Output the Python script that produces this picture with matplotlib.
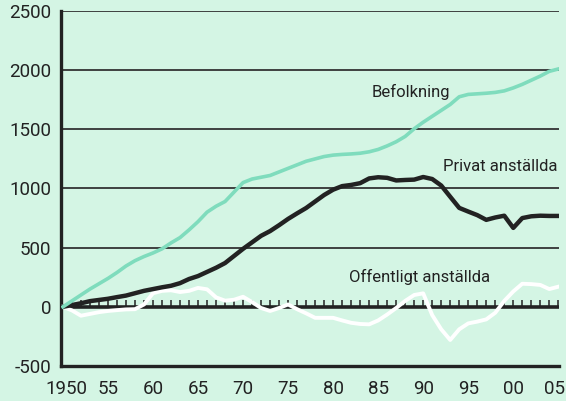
import matplotlib
matplotlib.use("Agg")
import matplotlib.pyplot as plt
import matplotlib.transforms as mtransforms
import numpy as np

years = list(range(1950, 2006))

befolkning = [0, 50, 100, 150, 195, 240, 290, 345, 390, 425,
              455, 490, 540, 585, 650, 720, 800, 850, 890, 970,
              1050, 1080, 1095, 1110, 1140, 1170, 1200, 1230, 1250, 1270,
              1282, 1288, 1292, 1298, 1310, 1330, 1360, 1395, 1440, 1505,
              1560, 1610, 1660, 1710, 1775, 1795, 1800, 1805, 1812, 1825,
              1850, 1880, 1915, 1950, 1990, 2010]

privat = [0, 15, 30, 48, 58, 68, 82, 95, 115, 135,
          150, 165, 178, 200, 235, 260, 295, 330, 370, 430,
          490, 545, 600, 640, 690, 743, 790, 835, 890, 945,
          990, 1020, 1030, 1045, 1085, 1095, 1090, 1068, 1072, 1075,
          1097, 1080, 1025, 930, 836, 805, 775, 735, 755, 770,
          667, 750, 765, 770, 768, 768]

offentligt = [0, -30, -75, -60, -45, -35, -28, -22, -20, 20,
              115, 135, 140, 125, 135, 160, 148, 80, 52, 60,
              85, 40, -10, -35, -10, 20, -20, -55, -93, -93,
              -93, -115, -135, -145, -148, -115, -65, -10, 50, 100,
              114, -70, -190, -280, -190, -140, -125, -106, -50, 50,
              130, 195, 192, 185, 150, 170]

xtick_pos = list(range(1950, 2006, 5))
xtick_labels = ["1950", "55", "60", "65", "70", "75", "80", "85", "90", "95", "00", "05"]
ytick_pos = [-500, 0, 500, 1000, 1500, 2000, 2500]

bg = "#d4f5e4"
green = "#7fdcbd"
dark = "#222222"

plt.rcParams['font.family'] = ['Roboto', 'DejaVu Sans']

fig = plt.figure(figsize=(5.66, 4.01), dpi=100, facecolor=bg)
ax = fig.add_axes([0.108, 0.0873, 0.880, 0.8853])
ax.set_facecolor(bg)

ax.set_xlim(1949.8, 2005.1)
ax.set_ylim(-500, 2500)

# gridlines
for v in [500, 1000, 1500, 2000, 2500]:
    ax.axhline(v, color="#333333", lw=1.3, zorder=1)
ax.axhline(0, color=dark, lw=2.6, zorder=2)
# yearly ticks on zero line
for y in range(1951, 2006):
    ax.plot([y, y], [0, 60], color=dark, lw=1.1, zorder=2, solid_capstyle='butt')

ax.plot(years, offentligt, color="white", lw=2.8, zorder=3, solid_joinstyle='round')
ax.plot(years, privat, color=dark, lw=3.2, zorder=4, solid_joinstyle='round')
ax.plot(years, befolkning, color=green, lw=2.6, zorder=5, solid_joinstyle='round')

ax.text(1988.6, 1813, "Befolkning", fontsize=12, color=dark, ha="center", va="center")
ax.text(2004.9, 1186, "Privat anställda", fontsize=12, color=dark, ha="right", va="center")
ax.text(1989.6, 254, "Offentligt anställda", fontsize=12, color=dark, ha="center", va="center")

for s in ["top", "right"]:
    ax.spines[s].set_visible(False)
ax.spines["left"].set_linewidth(2.4)
ax.spines["bottom"].set_linewidth(2.4)
ax.spines["left"].set_color(dark)
ax.spines["bottom"].set_color(dark)

ax.set_xticks(xtick_pos)
ax.set_xticklabels(xtick_labels)
ax.set_yticks(ytick_pos)
ax.set_yticklabels([str(v) for v in ytick_pos])
ax.tick_params(axis="both", length=0, labelsize=13.5, colors=dark)
ax.tick_params(axis="x", pad=10)
ax.tick_params(axis="y", pad=7)

# nudge first and last x labels to keep them inside, like the reference
labels = ax.get_xticklabels()
labels[0].set_transform(labels[0].get_transform() + mtransforms.ScaledTranslation(4/100, 0, fig.dpi_scale_trans))
labels[-1].set_transform(labels[-1].get_transform() + mtransforms.ScaledTranslation(-4/100, 0, fig.dpi_scale_trans))

fig.savefig("out.png", dpi=100, facecolor=bg)
